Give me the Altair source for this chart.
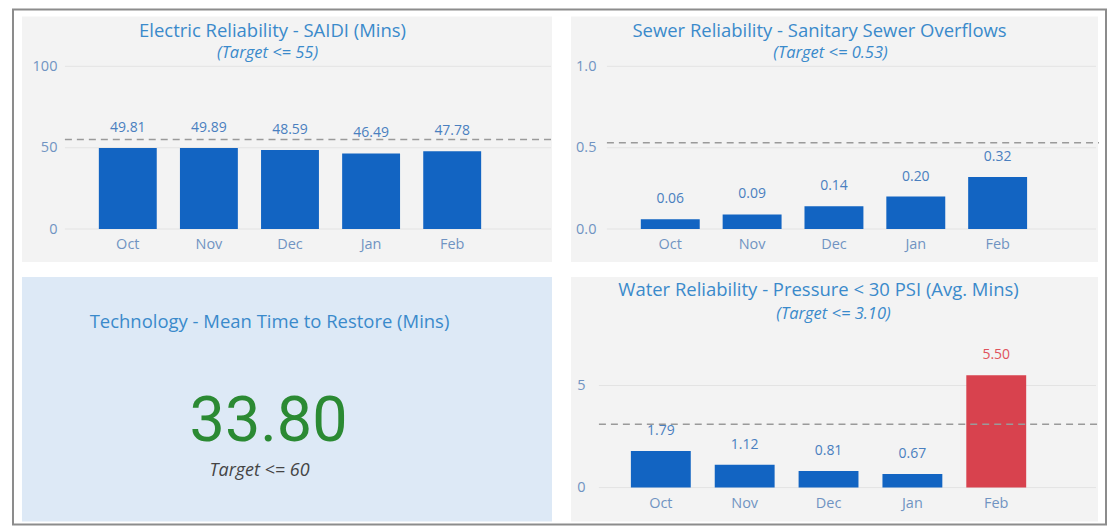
import altair as alt
import pandas as pd

# ---------------- data ----------------
months = ["Oct", "Nov", "Dec", "Jan", "Feb"]
electric_saidi = [49.81, 49.89, 48.59, 46.49, 47.78]
sewer_overflows = [0.06, 0.09, 0.14, 0.20, 0.32]
water_pressure = [1.79, 1.12, 0.81, 0.67, 5.50]
electric_target = 55
sewer_target = 0.53
water_target = 3.10
tech_mttr = 33.80
tech_target = 60
electric_ticks = [0, 50, 100]
sewer_ticks = [0.0, 0.5, 1.0]
water_ticks = [0, 5]

# ---------------- styles ----------------
BLUE = "#1264c2"
RED = "#d8424e"
TITLE = "#3a8acb"
AXIS = "#7093c2"
VALUE = "#4a7fbf"
PANEL = "#f3f3f3"
TECH_BG = "#dde9f6"
GREEN = "#2b8a33"
FONT = "Open Sans"
TITLE_SIZE = 18.5
SUB_SIZE = 16.5
AXIS_SIZE = 14.5

one = alt.Data(values=[{"k": 1}])


def txt(s, x, y, size, color, italic=False, font=FONT):
    return alt.Chart(one).mark_text(
        text=s, fontSize=size, color=color, font=font,
        fontStyle="italic" if italic else "normal",
        align="center", baseline="middle",
    ).encode(x=alt.value(x), y=alt.value(y))


def rect(x1, x2, y1, y2, color):
    return alt.Chart(one).mark_rect(color=color).encode(
        x=alt.value(x1), x2=alt.value(x2), y=alt.value(y1), y2=alt.value(y2))


def bar_panel(values, target, domain, ticks, tick_fmt, w, h, pi, po, al, bg,
              titles, ypad, xpad, line_x0=0, red_over=False, extra=None):
    df = pd.DataFrame({"month": months, "value": values})
    xscale = alt.Scale(paddingInner=pi, paddingOuter=po, align=al)
    yscale = alt.Scale(domain=domain, nice=False, zero=True)
    xaxis = alt.Axis(title=None, labelAngle=0, ticks=False, domain=False, grid=False,
                     labelPadding=xpad, labelFontSize=AXIS_SIZE, labelColor=AXIS,
                     labelFont=FONT, zindex=1)
    yaxis = alt.Axis(title=None, values=ticks, format=tick_fmt, ticks=False,
                     domain=False, grid=False, labelPadding=ypad, labelFontSize=AXIS_SIZE,
                     labelColor=AXIS, labelFont=FONT, zindex=1)
    if red_over:
        bar_color = alt.condition(f"datum.value > {target}", alt.value(RED), alt.value(BLUE))
        lab_color = alt.condition(f"datum.value > {target}", alt.value("#e0525c"), alt.value(VALUE))
    else:
        bar_color = alt.value(BLUE)
        lab_color = alt.value(VALUE)

    layers = []
    if extra is not None:
        layers.append(extra)
    layers.append(rect(bg[0], bg[1], bg[2], bg[3], PANEL))
    grid = alt.Chart(pd.DataFrame({"tick": ticks})).mark_rule(
        color="#e3e3e3", strokeWidth=1).encode(
        y=alt.Y("tick:Q", scale=yscale, axis=yaxis),
        x=alt.value(line_x0), x2=alt.value(w))
    bars = alt.Chart(df).mark_bar().encode(
        x=alt.X("month:N", sort=months, scale=xscale, axis=xaxis),
        y=alt.Y("value:Q", scale=yscale, axis=yaxis),
        color=bar_color)
    rule = alt.Chart(pd.DataFrame({"target": [target]})).mark_rule(
        color="#9a9a9a", strokeDash=[7, 5], strokeWidth=1.5).encode(
        y=alt.Y("target:Q", scale=yscale, axis=yaxis),
        x=alt.value(line_x0), x2=alt.value(w + 3))
    labels = alt.Chart(df).mark_text(
        dy=-20, fontSize=14, font=FONT, baseline="middle", align="center").encode(
        x=alt.X("month:N", sort=months, scale=xscale, axis=xaxis),
        y=alt.Y("value:Q", scale=yscale, axis=yaxis),
        text=alt.Text("value:Q", format=".2f"),
        color=lab_color)
    layers += [grid, bars, rule, labels]
    for t in titles:
        layers.append(txt(*t))
    return alt.layer(*layers).properties(width=w, height=h)


frame = alt.Chart(one).mark_rect(fill="transparent", stroke="#8c8c8c", strokeWidth=2).encode(
    x=alt.value(-52), x2=alt.value(1043), y=alt.value(-57), y2=alt.value(459))

tl = bar_panel(
    electric_saidi, electric_target, [0, 100], electric_ticks, "d",
    487, 163, 0.286, 0.64, 0.327, (-43, 488, -50, 196),
    [("Electric Reliability - SAIDI (Mins)", 208, -35, TITLE_SIZE, TITLE),
     (f"(Target <= {electric_target})", 203, -13, SUB_SIZE, TITLE, True)],
    8, 8, extra=frame)

tr = bar_panel(
    sewer_overflows, sewer_target, [0, 1], sewer_ticks, ".1f",
    498, 163, 0.28, 0.677, 0.378, (-28, 500, -50, 196),
    [("Sewer Reliability - Sanitary Sewer Overflows", 221, -35, TITLE_SIZE, TITLE),
     (f"(Target <= {sewer_target:.2f})", 232, -13, SUB_SIZE, TITLE, True)],
    3, 8, line_x0=8)

bl = alt.layer(
    rect(-43, 488, -78, 167, TECH_BG),
    txt("Technology - Mean Time to Restore (Mins)", 205, -33, TITLE_SIZE, TITLE),
    txt(f"{tech_mttr:.2f}", 204, 67, 63, GREEN, font="Roboto"),
    txt(f"Target <= {tech_target}", 195, 116, 18, "#444444", True),
).properties(width=487, height=133)

br = bar_panel(
    water_pressure, water_target, [0, 6.5], water_ticks, "d",
    498, 133, 0.286, 0.607, 0.314, (-28, 500, -78, 167),
    [("Water Reliability - Pressure < 30 PSI (Avg. Mins)", 220, -65, TITLE_SIZE, TITLE),
     (f"(Target <= {water_target:.2f})", 235, -41, SUB_SIZE, TITLE, True)],
    14, 9, red_over=True)

chart = alt.concat(
    tl, tr, bl, br, columns=2, spacing={"row": 126, "column": 48}
).properties(
    bounds="flush", align="none",
    padding={"left": 4, "top": 0, "right": 0, "bottom": 0},
    background="white",
).configure_view(strokeWidth=0)

chart.save("out.html", embed_options={"renderer": "svg", "actions": False})
